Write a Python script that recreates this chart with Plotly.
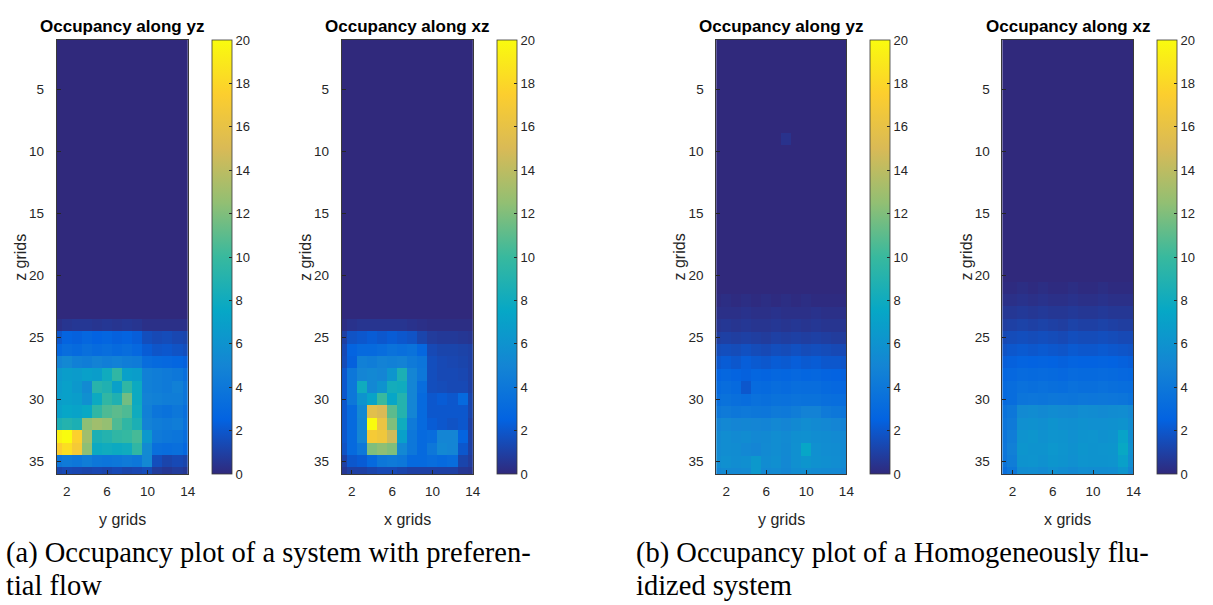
import plotly.graph_objects as go

W, H = 1213, 605

# grid indices
grid_cols = [1, 2, 3, 4, 5, 6, 7, 8, 9, 10, 11, 12, 13, 14]
z_rows = list(range(1, 37))
x_ticks = [2, 6, 10, 14]
z_ticks = [5, 10, 15, 20, 25, 30, 35]
cbar_ticks = [0, 2, 4, 6, 8, 10, 12, 14, 16, 18, 20]

Z0 = [0, 0, 0, 0, 0, 0, 0, 0, 0, 0, 0, 0, 0, 0]

# (a) preferential flow, occupancy along yz (rows = z grids 1..36, cols = y grids 1..14)
yz_pref = [
    Z0, Z0, Z0, Z0, Z0, Z0, Z0, Z0, Z0, Z0,
    Z0, Z0, Z0, Z0, Z0, Z0, Z0, Z0, Z0, Z0,
    Z0, Z0, Z0,
    [0.3, 0.5, 0.6, 0.6, 0.5, 0.6, 0.5, 0.6, 0.5, 0.3, 0.3, 0.3, 0.3, 0.3],
    [2.0, 2.6, 2.4, 2.8, 2.5, 2.7, 2.4, 2.6, 2.3, 1.6, 1.4, 1.5, 1.3, 1.2],
    [2.8, 3.2, 3.0, 3.4, 3.1, 3.3, 3.0, 3.2, 2.9, 2.2, 1.9, 2.0, 1.8, 1.6],
    [4.8, 5.2, 4.6, 4.4, 4.8, 4.5, 4.7, 4.4, 4.3, 3.2, 3.0, 2.9, 2.7, 2.4],
    [6.4, 6.8, 6.6, 7.0, 6.8, 8.0, 9.6, 7.0, 6.8, 4.6, 4.4, 4.2, 4.0, 3.4],
    [6.6, 7.0, 6.4, 5.4, 9.2, 8.8, 7.0, 9.6, 7.8, 4.6, 4.4, 4.2, 4.6, 3.8],
    [6.8, 7.0, 6.8, 5.8, 7.8, 9.6, 8.8, 11.6, 7.8, 4.8, 4.6, 4.4, 4.4, 3.8],
    [7.0, 7.4, 7.2, 7.6, 9.6, 10.6, 11.0, 10.6, 8.0, 4.6, 3.8, 3.6, 4.0, 3.4],
    [8.6, 9.0, 8.6, 12.4, 13.0, 12.6, 10.6, 9.6, 8.6, 4.8, 4.4, 4.2, 4.4, 3.6],
    [19.5, 20.0, 17.6, 13.0, 8.6, 9.0, 9.6, 9.8, 10.4, 6.4, 4.2, 4.0, 3.8, 3.2],
    [17.5, 18.4, 17.0, 12.4, 7.8, 8.0, 7.8, 8.0, 9.6, 5.4, 3.4, 3.2, 3.4, 2.8],
    [3.8, 4.2, 4.0, 4.4, 4.0, 3.8, 4.0, 4.2, 4.0, 5.2, 1.6, 1.2, 1.4, 1.2],
    [1.2, 1.4, 1.3, 1.2, 1.3, 1.2, 1.4, 1.2, 1.3, 1.5, 0.8, 0.6, 0.8, 0.6],
]

# (a) preferential flow, occupancy along xz
xz_pref = [
    Z0, Z0, Z0, Z0, Z0, Z0, Z0, Z0, Z0, Z0,
    Z0, Z0, Z0, Z0, Z0, Z0, Z0, Z0, Z0, Z0,
    Z0, Z0, Z0,
    [0.2, 0.4, 0.5, 0.5, 0.5, 0.5, 0.5, 0.4, 0.3, 0.2, 0.2, 0.2, 0.2, 0.2],
    [1.0, 1.8, 2.0, 2.2, 2.0, 2.2, 2.0, 1.8, 1.2, 0.8, 0.7, 0.7, 0.6, 0.5],
    [1.4, 2.6, 3.0, 3.0, 3.2, 3.6, 3.4, 3.6, 2.8, 1.4, 1.2, 1.2, 1.1, 1.0],
    [1.5, 2.4, 4.6, 4.4, 4.8, 4.6, 4.8, 4.2, 3.8, 1.6, 1.4, 1.3, 1.2, 1.0],
    [2.0, 4.0, 5.0, 5.2, 5.0, 6.2, 8.6, 5.0, 4.0, 1.6, 1.4, 1.4, 1.3, 1.0],
    [2.0, 4.0, 8.0, 5.2, 6.0, 8.2, 8.0, 5.0, 3.2, 1.6, 1.5, 1.4, 1.4, 1.0],
    [2.0, 4.0, 6.0, 7.2, 10.0, 7.4, 9.0, 5.0, 3.0, 2.0, 2.2, 2.0, 3.0, 1.2],
    [2.0, 3.0, 5.2, 15.6, 15.0, 11.0, 9.0, 5.0, 3.0, 2.0, 2.0, 2.0, 2.0, 1.2],
    [2.0, 3.0, 5.0, 20.0, 16.2, 12.0, 8.0, 4.2, 3.0, 2.2, 2.0, 1.8, 2.0, 1.0],
    [2.0, 3.0, 5.0, 17.0, 16.6, 14.6, 7.0, 4.0, 3.0, 3.2, 5.0, 5.0, 2.6, 1.0],
    [1.8, 3.0, 4.0, 12.0, 12.4, 12.0, 5.2, 4.0, 3.0, 4.0, 5.2, 5.0, 2.0, 1.0],
    [1.0, 2.0, 2.2, 3.0, 4.0, 4.2, 4.0, 3.0, 3.0, 3.2, 3.0, 3.2, 1.2, 0.8],
    [0.6, 1.0, 1.0, 1.2, 1.4, 1.4, 1.2, 1.0, 1.0, 1.0, 1.0, 1.0, 0.6, 0.5],
]

# (b) homogeneously fluidized, occupancy along yz
yz_homog = [
    Z0, Z0, Z0, Z0, Z0, Z0, Z0, Z0,
    [0, 0, 0, 0, 0, 0, 0, 0.4, 0, 0, 0, 0, 0, 0],
    Z0, Z0, Z0, Z0, Z0, Z0, Z0, Z0, Z0, Z0, Z0, Z0,
    [0.1, 0.2, 0.1, 0.2, 0.1, 0.2, 0.1, 0.2, 0.1, 0.2, 0.1, 0.1, 0.1, 0.1],
    [0.3, 0.3, 0.3, 0.4, 0.3, 0.3, 0.4, 0.3, 0.3, 0.3, 0.4, 0.3, 0.3, 0.3],
    [0.5, 0.6, 0.5, 0.6, 0.5, 0.5, 0.6, 0.5, 0.6, 0.5, 0.6, 0.5, 0.5, 0.5],
    [0.9, 1.0, 0.9, 1.0, 0.9, 0.8, 1.0, 0.9, 1.0, 0.9, 1.0, 0.9, 0.8, 0.8],
    [1.5, 1.6, 1.5, 1.7, 1.5, 1.4, 1.6, 1.5, 1.7, 1.5, 1.6, 1.5, 1.4, 1.4],
    [2.0, 2.2, 2.0, 2.3, 2.1, 2.0, 2.2, 2.1, 2.3, 2.1, 2.2, 2.0, 2.0, 1.9],
    [2.6, 2.8, 2.6, 2.4, 2.7, 2.6, 2.8, 2.7, 2.9, 2.7, 2.8, 2.6, 2.5, 2.4],
    [3.0, 3.2, 3.0, 2.0, 3.1, 3.0, 3.2, 3.1, 3.3, 3.2, 3.2, 3.0, 2.9, 2.8],
    [3.4, 3.6, 3.4, 3.2, 3.5, 3.4, 3.6, 3.5, 3.7, 3.6, 3.6, 3.4, 3.3, 3.2],
    [4.0, 4.2, 4.0, 4.1, 4.0, 3.9, 4.2, 4.1, 4.4, 4.8, 4.8, 4.2, 4.0, 3.8],
    [4.9, 5.2, 5.0, 5.1, 5.0, 4.9, 5.2, 5.0, 5.3, 5.6, 5.4, 5.2, 5.0, 4.8],
    [5.3, 5.6, 5.4, 5.5, 5.2, 5.3, 5.6, 5.4, 5.7, 5.8, 5.6, 5.5, 5.4, 5.2],
    [5.4, 5.6, 5.5, 5.2, 5.0, 5.4, 5.6, 5.3, 5.8, 7.4, 5.8, 5.6, 5.5, 5.3],
    [5.5, 5.8, 5.6, 5.7, 6.4, 5.5, 5.7, 5.2, 5.8, 6.2, 5.9, 5.7, 5.6, 5.4],
    [5.0, 5.3, 5.2, 5.4, 6.4, 5.2, 5.4, 5.1, 5.5, 5.6, 5.4, 5.3, 5.2, 5.0],
    [4.6, 4.8, 4.7, 4.9, 5.6, 4.7, 4.8, 4.6, 5.0, 5.1, 4.9, 4.8, 4.7, 4.6],
]

# (b) homogeneously fluidized, occupancy along xz
xz_homog = [
    Z0, Z0, Z0, Z0, Z0, Z0, Z0, Z0, Z0, Z0,
    Z0, Z0, Z0, Z0, Z0, Z0, Z0, Z0, Z0, Z0,
    [0.1, 0.1, 0.2, 0.1, 0.2, 0.1, 0.1, 0.2, 0.1, 0.1, 0.2, 0.1, 0.1, 0.1],
    [0.3, 0.3, 0.4, 0.3, 0.4, 0.3, 0.3, 0.4, 0.3, 0.3, 0.4, 0.3, 0.3, 0.3],
    [0.6, 0.6, 0.7, 0.6, 0.7, 0.6, 0.6, 0.7, 0.6, 0.6, 0.7, 0.6, 0.6, 0.6],
    [0.9, 1.0, 1.1, 1.0, 1.1, 1.0, 0.9, 1.1, 1.0, 1.0, 1.1, 1.0, 0.9, 0.9],
    [1.4, 1.5, 1.6, 1.5, 1.6, 1.5, 1.4, 1.6, 1.5, 1.5, 1.6, 1.5, 1.4, 1.4],
    [1.8, 2.0, 2.1, 2.0, 2.1, 2.0, 1.9, 2.1, 2.0, 2.0, 2.1, 2.0, 1.9, 1.8],
    [2.3, 2.4, 2.6, 2.5, 2.6, 2.5, 2.4, 2.6, 2.5, 2.5, 2.6, 2.5, 2.4, 2.3],
    [2.7, 2.9, 3.1, 3.0, 3.1, 3.0, 2.9, 3.1, 3.0, 3.0, 3.1, 3.0, 2.9, 2.8],
    [3.0, 3.2, 3.5, 3.4, 3.5, 3.4, 3.3, 3.5, 3.4, 3.4, 3.5, 3.4, 3.3, 3.2],
    [3.0, 3.2, 3.8, 3.9, 3.8, 4.0, 3.9, 3.8, 4.0, 3.9, 4.0, 3.9, 3.8, 3.6],
    [3.6, 4.0, 5.4, 5.5, 5.3, 5.5, 5.4, 5.3, 5.6, 5.5, 5.4, 5.5, 5.6, 5.2],
    [3.8, 4.2, 5.8, 5.9, 5.7, 6.0, 5.8, 5.7, 5.9, 5.8, 5.8, 5.9, 6.0, 5.5],
    [3.8, 4.4, 6.0, 6.2, 5.9, 6.1, 6.0, 5.8, 6.0, 6.1, 5.9, 6.0, 7.2, 5.6],
    [3.9, 4.6, 6.2, 6.0, 6.0, 6.3, 6.1, 5.9, 6.2, 6.0, 6.1, 6.2, 7.6, 5.8],
    [3.8, 4.4, 6.0, 6.1, 5.9, 6.2, 6.0, 5.8, 6.1, 6.0, 6.0, 6.1, 7.0, 5.6],
    [3.4, 4.0, 5.5, 5.6, 5.4, 5.7, 5.5, 5.3, 5.6, 5.5, 5.5, 5.6, 6.2, 5.1],
]

panel_titles = ["Occupancy along yz", "Occupancy along xz",
                "Occupancy along yz", "Occupancy along xz"]
x_labels = ["y grids", "x grids", "y grids", "x grids"]
y_label = "z grids"
captions_a = ["(a) Occupancy plot of a system with preferen-", "tial flow"]
captions_b = ["(b) Occupancy plot of a Homogeneously flu-", "idized system"]

# parula-like colour map
parula = [
    [0.0, "#30297c"], [0.125, "#0363e1"], [0.25, "#1485d4"],
    [0.375, "#06a7c6"], [0.5, "#38b99e"], [0.625, "#92bf73"],
    [0.75, "#d9ba56"], [0.875, "#fcce2e"], [1.0, "#f9fb0e"],
]

# panel placement in pixels (left, right) and common top/bottom
panel_px = [(57, 189), (344, 476), (721, 852), (1009, 1141)]
top_px, bot_px = 40, 474
TXT = "#262626"
SANS = "Liberation Sans, Arial, sans-serif"
SERIF = "Liberation Serif, Times New Roman, serif"


def fx(p):
    return p / W


def fy(p):
    return 1 - p / H


fig = go.Figure()
layout = dict(
    width=W, height=H, margin=dict(l=0, r=0, t=0, b=0),
    paper_bgcolor="white", plot_bgcolor="white", showlegend=False,
)
annotations = []

for i, (data, (lp, rp)) in enumerate(zip([yz_pref, xz_pref, yz_homog, xz_homog], panel_px)):
    n = i + 1
    xa = "x" if n == 1 else f"x{n}"
    ya = "y" if n == 1 else f"y{n}"
    fig.add_trace(go.Heatmap(
        z=data, x=grid_cols, y=z_rows, xaxis=xa, yaxis=ya,
        zmin=0, zmax=20, colorscale=parula, zsmooth=False,
        hoverinfo="skip",
        colorbar=dict(
            x=fx(rp + 24), xanchor="left", xpad=0, xref="paper",
            y=fy(bot_px), yanchor="bottom", ypad=0, yref="paper",
            len=(bot_px - top_px) / H, lenmode="fraction",
            thickness=20, thicknessmode="pixels",
            outlinecolor="#3a3a3a", outlinewidth=0.8,
            tickvals=cbar_ticks, ticks="inside", ticklen=3,
            tickcolor=TXT, tickwidth=0.8, tickprefix="\u00a0",
            tickfont=dict(family=SANS, size=13, color=TXT),
        ),
    ))
    axis_common = dict(
        showgrid=False, zeroline=False, showline=True, mirror=True,
        linecolor="#3a3a3a", linewidth=0.8, ticks="inside", ticklen=4,
        tickcolor=TXT, tickwidth=0.7,
        tickfont=dict(family=SANS, size=13.5, color=TXT),
    )
    layout["xaxis" if n == 1 else f"xaxis{n}"] = dict(
        axis_common, domain=[fx(lp), fx(rp)], range=[1, 14],
        tickvals=x_ticks, anchor=ya, ticklabelstandoff=5,
    )
    layout["yaxis" if n == 1 else f"yaxis{n}"] = dict(
        axis_common, domain=[fy(bot_px), fy(top_px)], range=[36, 1],
        tickvals=z_ticks, anchor=xa, ticklabelstandoff=9,
    )
    cx = (lp + rp) / 2
    annotations.append(dict(
        text=f"<b>{panel_titles[i]}</b>", x=fx(cx), y=fy(26),
        xref="paper", yref="paper", xanchor="center", yanchor="middle",
        showarrow=False, font=dict(family=SANS, size=17, color="black"),
    ))
    annotations.append(dict(
        text=x_labels[i], x=fx(cx), y=fy(519),
        xref="paper", yref="paper", xanchor="center", yanchor="middle",
        showarrow=False, font=dict(family=SANS, size=16, color=TXT),
    ))
    annotations.append(dict(
        text=y_label, x=fx(lp - 37), y=fy((top_px + bot_px) / 2),
        xref="paper", yref="paper", xanchor="center", yanchor="middle",
        textangle=-90, showarrow=False,
        font=dict(family=SANS, size=16, color=TXT),
    ))

for lines, left in [(captions_a, 4), (captions_b, 638)]:
    for j, line in enumerate(lines):
        annotations.append(dict(
            text=line, x=fx(left), y=fy(553 + 32 * j),
            xref="paper", yref="paper", xanchor="left", yanchor="middle",
            showarrow=False, font=dict(family=SERIF, size=28.5, color="black"),
        ))

layout["annotations"] = annotations
fig.update_layout(**layout)
fig.write_html("out.html")
